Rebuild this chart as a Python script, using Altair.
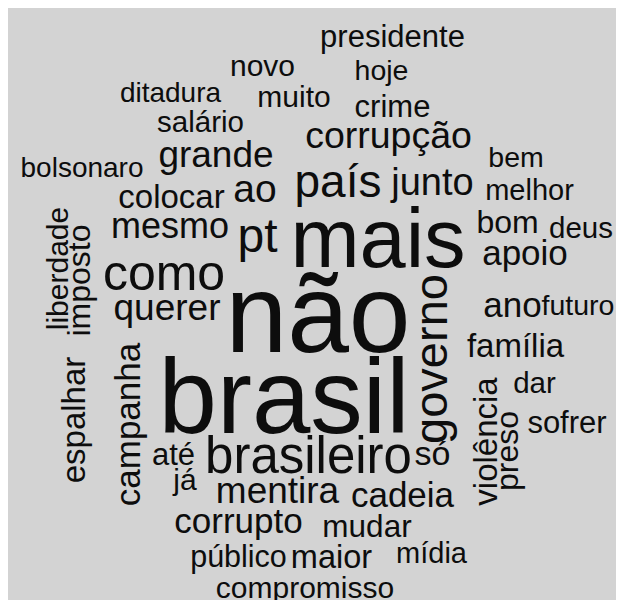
import altair as alt
import pandas as pd

# horizontal words: word, centre x, baseline y, font size
words_h = ["presidente", "novo", "hoje", "ditadura", "muito", "crime", "salário",
           "corrupção", "grande", "bem", "bolsonaro", "país", "junto", "melhor",
           "colocar", "ao", "mesmo", "pt", "mais", "bom", "deus", "apoio", "como",
           "querer", "não", "ano", "futuro", "família", "dar", "brasil", "sofrer",
           "até", "brasileiro", "só", "já", "mentira", "cadeia", "corrupto", "mudar",
           "público", "maior", "mídia", "compromisso"]
x_h = [392.5, 262.5, 381.5, 170.5, 294, 392.5, 200.5,
       388.5, 216, 516, 82, 338, 432.5, 529.5,
       171.5, 255, 170, 257.5, 378, 507.5, 581, 525, 164,
       167, 318, 512.5, 578, 515.5, 534.5, 284, 567,
       173.5, 308.5, 432.5, 185, 277.5, 402.5, 238.5, 367,
       238.5, 331.5, 431.5, 305]
y_h = [47, 76, 80, 101.7, 107, 116.7, 131.7,
       148, 166.7, 166.7, 176.7, 196.7, 195, 200,
       208, 202, 238, 252, 267, 233, 238, 265, 290,
       320, 352, 317, 315, 357, 393, 432.5, 433,
       465, 472.5, 465, 490, 503, 507, 533, 537,
       567, 568, 563, 598]
s_h = [31, 30, 28.5, 28, 30, 31, 29.5,
       37.5, 37, 28.5, 28, 46, 38, 29,
       33, 39, 36, 48, 83, 32, 29.5, 35, 50,
       37, 111, 35, 28.5, 33, 29.5, 105, 31,
       31, 51, 34, 30, 37, 35, 35, 31.5,
       30.5, 32.5, 29, 30]

# vertical words (read bottom to top): word, baseline x, centre y, font size
words_v = ["liberdade", "imposto", "governo", "campanha", "espalhar", "violência", "preso"]
x_v = [68, 90, 447, 140, 85, 497, 518]
y_v = [268.5, 280.5, 359, 424.5, 420, 441.5, 451]
s_v = [30, 32, 47, 35, 33, 33, 32]

df_h = pd.DataFrame({"word": words_h, "x": x_h, "y": y_h, "size": s_h})
df_v = pd.DataFrame({"word": words_v, "x": x_v, "y": y_v, "size": s_v})

xs = alt.Scale(domain=[8, 616])
ys = alt.Scale(domain=[8, 600], reverse=True)

def layer(df, angle):
    return alt.Chart(df).mark_text(
        font="Liberation Sans", align="center", baseline="alphabetic",
        color="#0d0d0d", angle=angle
    ).encode(
        x=alt.X("x:Q", scale=xs, axis=None),
        y=alt.Y("y:Q", scale=ys, axis=None),
        size=alt.Size("size:Q", scale=None, legend=None),
        text="word:N",
    )

chart = alt.layer(layer(df_h, 0), layer(df_v, 270)).properties(
    width=608, height=592, background="#d3d3d3", padding=0,
    autosize=alt.AutoSizeParams(type="none"),
).configure_view(stroke=None)

chart.save("out.html", embed_options={"renderer": "svg", "actions": False})
